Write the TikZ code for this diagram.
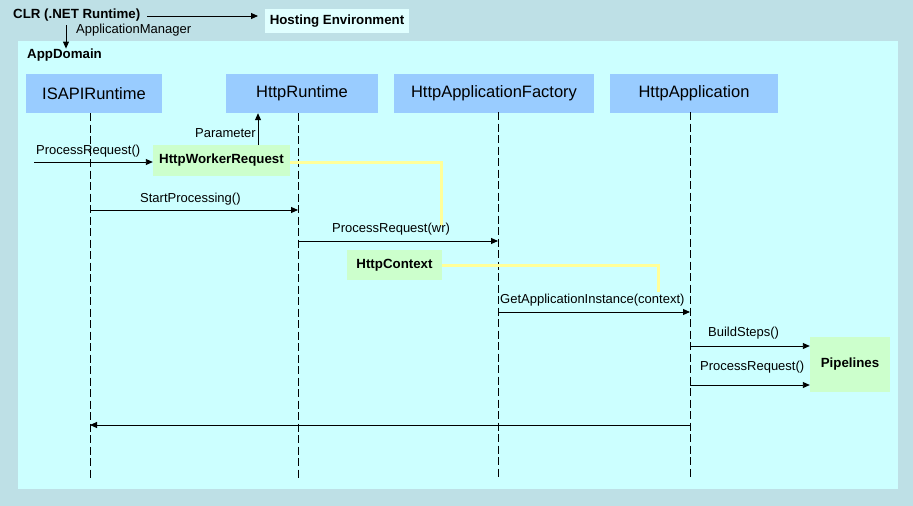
\documentclass[tikz,border=0pt]{standalone}
\usepackage{fontspec}
\setmainfont{Liberation Sans}
\usetikzlibrary{arrows.meta}
\definecolor{outerbg}{RGB}{190,224,230}
\definecolor{innerbg}{RGB}{204,255,255}
\definecolor{hdrfill}{RGB}{153,204,255}
\definecolor{greenfill}{RGB}{204,255,204}
\definecolor{hostfill}{RGB}{224,255,255}
\definecolor{yel}{RGB}{255,255,153}
\begin{document}
\begin{tikzpicture}[x=1pt,y=-1pt,
  hdr/.style={fill=hdrfill, inner sep=0pt, font=\fontsize{16.5}{18}\selectfont},
  gbox/.style={fill=greenfill, inner sep=0pt, font=\fontsize{13.3}{15}\selectfont\bfseries},
  lbl/.style={inner sep=0pt, anchor=west, font=\fontsize{13}{15}\selectfont},
  blbl/.style={inner sep=0pt, anchor=west, font=\fontsize{13.3}{15}\selectfont\bfseries},
  life/.style={black, line width=0.8pt, dash pattern=on 8pt off 3.5pt},
  msg/.style={black, line width=0.9pt, -{Triangle[length=7pt,width=6pt]}},
  yline/.style={yel, line width=3pt}]
\useasboundingbox (0,0) rectangle (913,506);
\fill[outerbg] (0,0) rectangle (913,506);
\fill[innerbg] (18,41) rectangle (898,489);

% top
\node[blbl] (clr) at (13,15) {CLR (.NET Runtime)};
\node[fill=hostfill, inner sep=0pt, minimum width=144, minimum height=24,
      font=\fontsize{13.3}{15}\selectfont\bfseries] (host) at (337,21) {Hosting Environment};
\coordinate (clrout) at (147,16);
\coordinate (hostin) at (258,16);
\draw[msg] (clrout) -- (hostin);
\node[blbl] (appdom) at (27,55) {AppDomain};
\coordinate (amtop) at (66,25);
\draw[msg] (amtop) -- (appdom.north -| amtop);
\node[lbl] (amlbl) at (76,30) {ApplicationManager};

% headers
\node[hdr, minimum width=136, minimum height=39] (isapi) at (94,93.5) {ISAPIRuntime};
\node[hdr, minimum width=152, minimum height=39] (hrt) at (302,93.5) {HttpRuntime};
\node[hdr, minimum width=200, minimum height=39] (fac) at (494,93) {HttpApplicationFactory};
\node[hdr, minimum width=168, minimum height=39] (app) at (694,93) {HttpApplication};

% lifelines
\coordinate (l1t) at (90,113);   \coordinate (l1b) at (90,479);
\coordinate (l2t) at (298,113);  \coordinate (l2b) at (298,479);
\coordinate (l3t) at (498,112);  \coordinate (l3b) at (498,479);
\coordinate (l4t) at (690,112);  \coordinate (l4b) at (690,479);
\draw[life] (l1t) -- (l1b);
\draw[life] (l2t) -- (l2b);
\draw[life] (l3t) -- (l3b);
\draw[life] (l4t) -- (l4b);

% HttpWorkerRequest
\node[gbox, minimum width=137, minimum height=31] (hwr) at (221.5,160.5) {HttpWorkerRequest};
\coordinate (pr0) at (34,162);
\draw[msg] (pr0) -- (hwr.west |- pr0);
\node[lbl] (prlbl) at (36,151) {ProcessRequest()};
\coordinate (parb) at (258,145);
\draw[msg] (parb) -- (parb |- hrt.south);
\node[lbl, anchor=east] (parlbl) at (256,133) {Parameter};

% yellow from HttpWorkerRequest
\coordinate (y1c) at (441,162);
\coordinate (y1e) at (441,226);
\draw[yline] (hwr.east |- y1c) -- (y1c) -- (y1e);

% StartProcessing
\coordinate (sp1) at (90,210); \coordinate (sp2) at (298,210);
\draw[msg] (sp1) -- (sp2);
\node[lbl] (splbl) at (140,199) {StartProcessing()};

% ProcessRequest(wr)
\coordinate (pw1) at (298,241); \coordinate (pw2) at (498,241);
\draw[msg] (pw1) -- (pw2);
\node[lbl] (pwlbl) at (332,229) {ProcessRequest(wr)};

% HttpContext
\node[gbox, minimum width=95, minimum height=30] (ctx) at (394.5,265) {HttpContext};
\coordinate (y2c) at (658,265);
\coordinate (y2e) at (658,292);
\draw[yline] (ctx.east) -- (y2c) -- (y2e);

% GetApplicationInstance
\coordinate (ga1) at (498,312); \coordinate (ga2) at (690,312);
\draw[msg] (ga1) -- (ga2);
\node[lbl] (galbl) at (500,300) {GetApplicationInstance(context)};

% Pipelines
\node[gbox, minimum width=80, minimum height=55] (pipe) at (850,364.5) {Pipelines};
\coordinate (bs1) at (690,346);
\draw[msg] (bs1) -- (pipe.west |- bs1);
\node[lbl] (bslbl) at (708,333) {BuildSteps()};
\coordinate (pq1) at (690,385);
\draw[msg] (pq1) -- (pipe.west |- pq1);
\node[lbl] (pqlbl) at (700,367) {ProcessRequest()};

% return
\coordinate (rt1) at (690,425); \coordinate (rt2) at (90,425);
\draw[msg] (rt1) -- (rt2);
\end{tikzpicture}
\end{document}
